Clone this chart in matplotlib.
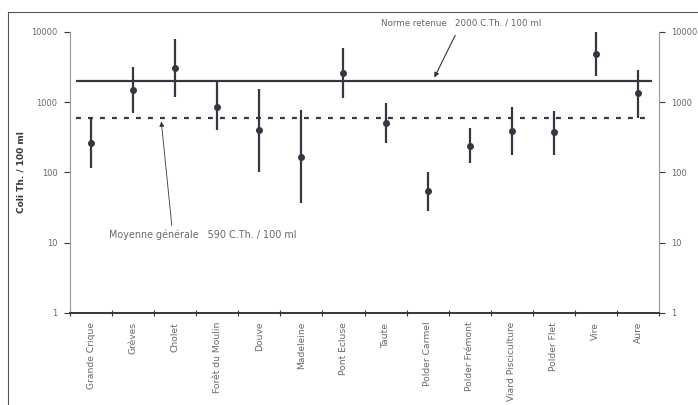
import matplotlib
matplotlib.use("Agg")
import matplotlib.pyplot as plt
import numpy as np

categories = ["Grande Crique", "Grèves", "Cholet", "Forêt du Moulin", "Douve",
              "Madeleine", "Pont Ecluse", "Taute", "Polder Carmel", "Polder Frémont",
              "Viard Pisciculture", "Polder Flet", "Vire", "Aure"]
means = [260, 1490, 3070, 855, 400, 166, 2630, 507, 55, 238, 390, 378, 4860, 1350]
upper = [590, 3170, 7950, 2000, 1540, 777, 5900, 975, 102, 430, 855, 750, 10000, 2880]
lower = [116, 703, 1190, 403, 102, 37, 1150, 263, 28, 137, 178, 178, 2370, 590]
norme = 2000
moyenne = 590
yticks = [1, 10, 100, 1000, 10000]
yticklabels = ["1", "10", "100", "1000", "10000"]

line_col = "#3a3340"
text_col = "#6a6470"

fig = plt.figure(figsize=(6.98, 4.05), dpi=100)
fig.patch.set_facecolor("white")
ax = fig.add_axes([70/698, 1-313/405, (659-70)/698, (313-32)/405])

x = np.arange(len(categories)) + 0.5
means_a = np.array(means)
yerr = [means_a - np.array(lower), np.array(upper) - means_a]
ax.errorbar(x, means, yerr=yerr, fmt="o", color=line_col, ms=4,
            elinewidth=1.6, capsize=0, zorder=3)

ax.hlines(norme, 0.14, 13.83, color=line_col, lw=1.6, zorder=2)
ax.hlines(moyenne, 0.14, 13.83, color=line_col, lw=1.6,
          linestyles=(0, (2.2, 3.2)), zorder=2)

ax.set_yscale("log")
ax.set_ylim(1, 10000)
ax.set_xlim(0, len(categories))
ax.set_yticks(yticks)
ax.set_yticklabels(yticklabels)
ax.yaxis.set_minor_locator(matplotlib.ticker.NullLocator())
ax.tick_params(axis="y", which="major", direction="out", length=4, width=0.8,
               color=line_col, labelsize=6, labelcolor=text_col, pad=5,
               right=True, labelright=True)
ax.set_xticks(np.arange(len(categories) + 1))
ax.set_xticklabels([])
ax.tick_params(axis="x", direction="inout", length=5, width=0.8, color=line_col)
for i, c in enumerate(categories):
    ax.text(x[i], 0.75, c, rotation=90, ha="center", va="top", fontsize=6.6,
            color=text_col)

ax.spines["top"].set_visible(False)
for s in ["left", "right"]:
    ax.spines[s].set_color("#9a94a0")
    ax.spines[s].set_linewidth(0.8)
ax.spines["bottom"].set_color(line_col)
ax.spines["bottom"].set_linewidth(1.4)

ax.set_ylabel("Coli Th. / 100 ml", fontsize=6.5, color=line_col, fontweight="bold")
ax.yaxis.set_label_coords(-0.075, 0.5)

ax.annotate("Norme retenue   2000 C.Th. / 100 ml", xy=(8.66, 2250), xytext=(9.3, 13400),
            fontsize=6.3, color=text_col, ha="center", va="center",
            arrowprops=dict(arrowstyle="-|>", color=line_col, lw=0.8, shrinkA=4, shrinkB=0,
                            mutation_scale=7),
            annotation_clip=False)
ax.text(3.16, 12.9, "Moyenne générale   590 C.Th. / 100 ml", fontsize=6.9,
        color=text_col, ha="center", va="center")
ax.annotate("", xy=(2.17, 530), xytext=(2.42, 17.5),
            arrowprops=dict(arrowstyle="-|>", color=line_col, lw=0.6, shrinkA=0, shrinkB=0,
                            mutation_scale=7))

# scan frame
fig.add_artist(plt.Line2D([8/698, 8/698], [0, 1-12/405], color="#555", lw=0.8))
fig.add_artist(plt.Line2D([8/698, 1], [1-12/405, 1-12/405], color="#555", lw=0.8))

fig.savefig("out.png", dpi=100)
